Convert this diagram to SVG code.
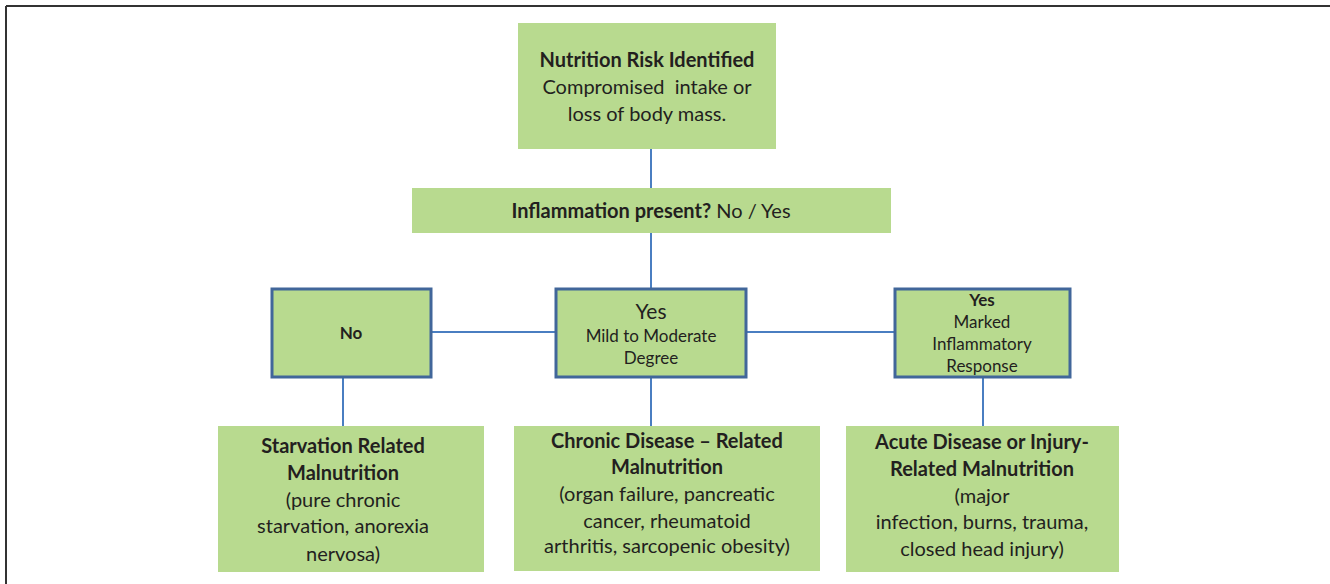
<svg xmlns="http://www.w3.org/2000/svg" width="1330" height="584" viewBox="0 0 1330 584">
<style>
.box{fill:#B8DA8F}
.dec{fill:#B8DA8F;stroke:#41669A;stroke-width:3}
.con{stroke:#4A7EC1;stroke-width:2;fill:none}
text{font-family:Lato,"Liberation Sans",sans-serif;fill:#231F20;text-anchor:middle;font-size:20px}
.b{font-weight:bold}
.s{font-size:17px}
</style>
<rect x="0" y="0" width="1330" height="584" fill="#fff"/>
<path d="M6 6H1330M6 6V584" stroke="#333" stroke-width="2" fill="none"/>
<g id="connectors">
<path class="con" d="M651 149V188"/>
<path class="con" d="M651 233V289"/>
<path class="con" d="M431 332H556"/>
<path class="con" d="M746 332H895"/>
<path class="con" d="M343 377V426"/>
<path class="con" d="M651 377V426"/>
<path class="con" d="M983 377V426"/>
</g>
<g id="risk">
<rect class="box" x="518" y="23" width="258" height="126"/>
<text x="647" y="67" class="b">Nutrition Risk Identified</text>
<text x="647" y="94" xml:space="preserve">Compromised  intake or</text>
<text x="647" y="121">loss of body mass.</text>
</g>
<g id="inflammation">
<rect class="box" x="412" y="188" width="479" height="45"/>
<text x="651" y="218"><tspan class="b">Inflammation present?</tspan> No / Yes</text>
</g>
<g id="no">
<rect class="dec" x="272" y="289" width="159" height="88"/>
<text x="351" y="339" class="b s">No</text>
</g>
<g id="yes-mild">
<rect class="dec" x="556" y="289" width="190" height="88"/>
<text x="651" y="319" style="font-size:21px">Yes</text>
<text x="651" y="342" class="s">Mild to Moderate</text>
<text x="651" y="364" class="s">Degree</text>
</g>
<g id="yes-marked">
<rect class="dec" x="895" y="289" width="175" height="88"/>
<text x="982" y="306" class="b s">Yes</text>
<text x="982" y="328" class="s">Marked</text>
<text x="982" y="350" class="s">Inflammatory</text>
<text x="982" y="372" class="s">Response</text>
</g>
<g id="starvation">
<rect class="box" x="218" y="426" width="266" height="146"/>
<text x="343" y="453" class="b">Starvation Related</text>
<text x="343" y="480" class="b">Malnutrition</text>
<text x="343" y="507">(pure chronic</text>
<text x="343" y="533">starvation, anorexia</text>
<text x="343" y="561">nervosa)</text>
</g>
<g id="chronic">
<rect class="box" x="514" y="426" width="306" height="145"/>
<text x="667" y="448" class="b">Chronic Disease – Related</text>
<text x="667" y="474" class="b">Malnutrition</text>
<text x="667" y="501">(organ failure, pancreatic</text>
<text x="667" y="528">cancer, rheumatoid</text>
<text x="667" y="553">arthritis, sarcopenic obesity)</text>
</g>
<g id="acute">
<rect class="box" x="846" y="426" width="273" height="146"/>
<text x="982" y="449" class="b">Acute Disease or Injury-</text>
<text x="982" y="476" class="b">Related Malnutrition</text>
<text x="982" y="503">(major</text>
<text x="982" y="529">infection, burns, trauma,</text>
<text x="982" y="556">closed head injury)</text>
</g>
</svg>
